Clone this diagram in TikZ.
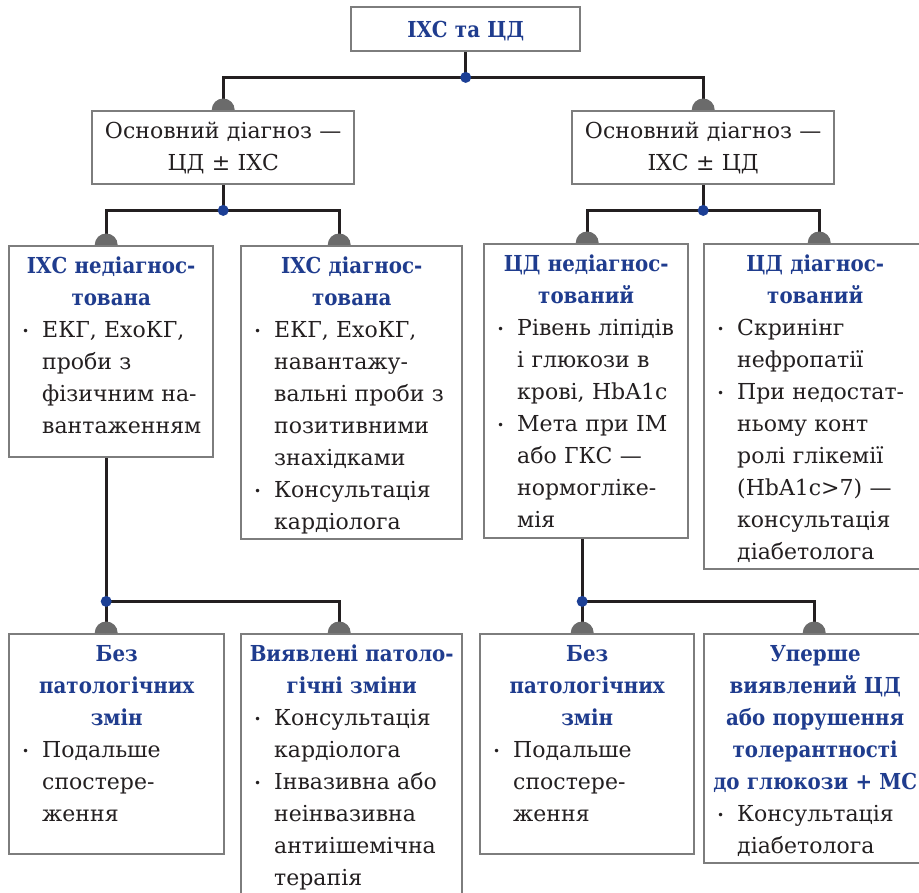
\documentclass[tikz,border=0pt]{standalone}
\usepackage{fontspec}
\setmainfont{DejaVu Serif}[BoldFeatures={FakeStretch=0.9}]
\usetikzlibrary{positioning, calc}

\definecolor{titleblue}{HTML}{1F3C8E}
\definecolor{framegray}{HTML}{7D7D7D}
\definecolor{capgray}{HTML}{6B6B6B}
\definecolor{linkblack}{HTML}{231F20}
\definecolor{dotblue}{HTML}{1C3F95}

\newcommand{\ttl}[1]{\makebox[\linewidth][c]{\bfseries\color{titleblue}#1}}
\newcommand{\bul}{\hspace*{13pt}\makebox[20pt][l]{\raisebox{2pt}{\fontsize{12}{12}\selectfont•}}}
\newcommand{\ind}{\hspace*{33pt}}

\begin{document}
\begin{tikzpicture}[x=1pt, y=1pt,
    box/.style={draw=framegray, line width=2.4pt, fill=white, anchor=north west,
      inner sep=0pt, align=left, text width=#1pt, text height=27pt,
      text=linkblack, font=\fontsize{22}{32}\selectfont},
    link/.style={draw=linkblack, line width=2.8pt},
    halfcap/.pic={\fill[capgray] (-11.5pt,0pt) arc[start angle=180, end angle=0, radius=11.5pt] -- cycle;}
]
\useasboundingbox (0,0) rectangle (919,-893);

% верхній рівень
\node[box=229, align=center, text height=30pt, text depth=14pt] (root) at (350,-6) {\ttl{ІХС та ЦД}};

% основний діагноз
\node[box=262, align=center, text depth=46pt] (mainCD) at (91,-110) {Основний діагноз —\\ЦД ± ІХС};
\node[box=262, align=center, text depth=46pt] (mainIHS) at (571,-110) {Основний діагноз —\\ІХС ± ЦД};

% третій рівень
\node[box=204, text depth=184pt] (ihsNo) at (8,-245) {\ttl{ІХС недіагнос-}\\ \ttl{тована}\\
  \bul ЕКГ, ЕхоКГ,\\ \ind проби з\\ \ind фізичним на-\\ \ind вантаженням};
\node[box=221, text depth=266pt] (ihsYes) at (240,-245) {\ttl{ІХС діагнос-}\\ \ttl{тована}\\
  \bul ЕКГ, ЕхоКГ,\\ \ind навантажу-\\ \ind вальні проби з\\ \ind позитивними\\ \ind знахідками\\
  \bul Консультація\\ \ind кардіолога};
\node[box=204, text depth=267pt] (cdNo) at (483,-243) {\ttl{ЦД недіагнос-}\\ \ttl{тований}\\
  \bul Рівень ліпідів\\ \ind і глюкози в\\ \ind крові, HbA1c\\
  \bul Мета при ІМ\\ \ind або ГКС —\\ \ind нормогліке-\\ \ind мія};
\node[box=222, text depth=298pt] (cdYes) at (703,-243) {\ttl{ЦД діагнос-}\\ \ttl{тований}\\
  \bul Скринінг\\ \ind нефропатії\\ \bul При недостат-\\ \ind ньому конт\\ \ind ролі глікемії\\
  \ind (HbA1c>7) —\\ \ind консультація\\ \ind діабетолога};

% нижній рівень
\node[box=215, text depth=193pt] (normL) at (8,-633) {\ttl{Без}\\ \ttl{патологічних}\\ \ttl{змін}\\
  \bul Подальше\\ \ind спостере-\\ \ind ження};
\node[box=221, text depth=250pt] (pathL) at (240,-633) {\ttl{Виявлені патоло-}\\ \ttl{гічні зміни}\\
  \bul Консультація\\ \ind кардіолога\\ \bul Інвазивна або\\ \ind неінвазивна\\ \ind антиішемічна\\ \ind терапія};
\node[box=214, text depth=193pt] (normR) at (479,-633) {\ttl{Без}\\ \ttl{патологічних}\\ \ttl{змін}\\
  \bul Подальше\\ \ind спостере-\\ \ind ження};
\node[box=222, text depth=202pt] (newCD) at (703,-633) {\ttl{Уперше}\\ \ttl{виявлений ЦД}\\ \ttl{або порушення}\\
  \ttl{толерантності}\\ \ttl{до глюкози + МС}\\ \bul Консультація\\ \ind діабетолога};

% вузли розгалуження
\coordinate (j0) at ($(root.south)+(0,-25)$);
\coordinate (j1) at ($(mainCD.south)+(0,-25)$);
\coordinate (j2) at ($(mainIHS.south)+(0,-25)$);
\coordinate (j3) at ($(ihsNo.south)+(-5,-143)$);
\coordinate (j4) at ($(cdNo.south)+(-4,-62)$);

% з'єднання
\draw[link] (root.south) -- (j0);
\draw[link] (mainCD.north) |- (j0) -| (mainIHS.north);
\draw[link] (mainCD.south) -- (j1);
\draw[link] ([xshift=-5pt]ihsNo.north) |- (j1) -| ([xshift=-12.5pt]ihsYes.north);
\draw[link] (mainIHS.south) -- (j2);
\draw[link] ([xshift=1pt]cdNo.north) |- (j2) -| ([xshift=4pt]cdYes.north);
\draw[link] ([xshift=-5pt]ihsNo.south) -- (j3);
\draw[link] ([xshift=-10.5pt]normL.north) |- (j3) -| ([xshift=-12.5pt]pathL.north);
\draw[link] ([xshift=-4pt]cdNo.south) -- (j4);
\draw[link] ([xshift=-5pt]normR.north) |- (j4) -| ([xshift=-1pt]newCD.north);

% напівкруглі упори
\path (mainCD.north) pic{halfcap} (mainIHS.north) pic{halfcap}
  ([xshift=-5pt]ihsNo.north) pic{halfcap} ([xshift=-12.5pt]ihsYes.north) pic{halfcap}
  ([xshift=1pt]cdNo.north) pic{halfcap} ([xshift=4pt]cdYes.north) pic{halfcap}
  ([xshift=-10.5pt]normL.north) pic{halfcap} ([xshift=-12.5pt]pathL.north) pic{halfcap}
  ([xshift=-5pt]normR.north) pic{halfcap} ([xshift=-1pt]newCD.north) pic{halfcap};

\foreach \j in {j0,j1,j2,j3,j4}
  \fill[dotblue] (\j) circle (5.5pt);
\end{tikzpicture}
\end{document}
